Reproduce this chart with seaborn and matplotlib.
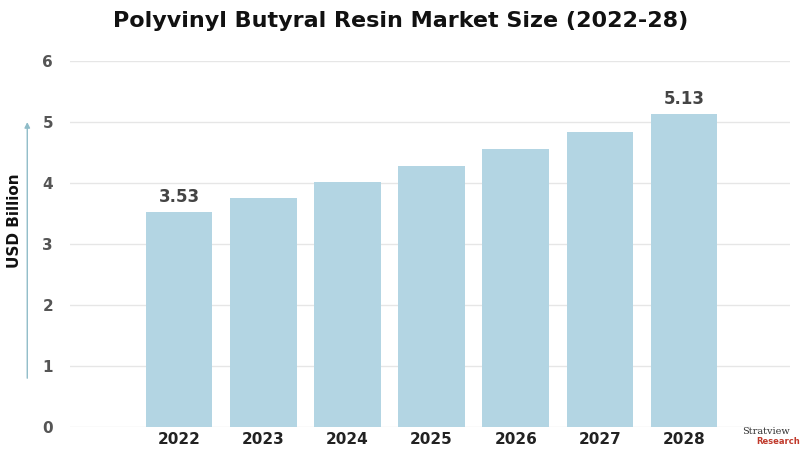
import matplotlib
matplotlib.use('Agg')
import matplotlib.pyplot as plt
import seaborn as sns
import pandas as pd

years = ['2022', '2023', '2024', '2025', '2026', '2027', '2028']
values = [3.53, 3.76, 4.01, 4.28, 4.55, 4.83, 5.13]
labelled = {'2022': '3.53', '2028': '5.13'}

df = pd.DataFrame({'year': years, 'value': values})

fig = plt.figure(figsize=(8.02, 4.59), dpi=100)
ax = fig.add_axes([0.087, 0.07, 0.898, 0.797])
sns.barplot(data=df, x='year', y='value', color='#b3d5e3', width=0.79, saturation=1, ax=ax)

ax.set_xlim(-1.3, 7.26)
ax.set_ylim(0, 6)
ax.set_yticks(range(7))
ax.grid(axis='y', color='#e6e6e6', linewidth=1)
ax.set_axisbelow(True)
for s in ax.spines.values():
    s.set_visible(False)
ax.tick_params(length=0)
ax.tick_params(axis='y', labelcolor='#555555', labelsize=11, pad=12)
ax.tick_params(axis='x', labelcolor='#222222', labelsize=11, pad=4)
for t in ax.get_xticklabels() + ax.get_yticklabels():
    t.set_fontweight('bold')
ax.set_xlabel('')
ax.set_ylabel('')

for i, (y, v) in enumerate(zip(years, values)):
    if y in labelled:
        ax.text(i, v + 0.1, labelled[y], ha='center', va='bottom',
                fontsize=12, fontweight='bold', color='#444444')

fig.text(0.5, 0.955, 'Polyvinyl Butyral Resin Market Size (2022-28)', ha='center', va='center',
         fontsize=16, fontweight='bold', color='#111111')
fig.text(0.018, 0.52, 'USD Billion', rotation=90, ha='center', va='center',
         fontsize=11, fontweight='bold', color='#111111')
fig.add_artist(matplotlib.patches.FancyArrowPatch((0.034, 0.17), (0.034, 0.74),
               transform=fig.transFigure, arrowstyle='-|>', mutation_scale=8,
               color='#8fbcc8', linewidth=1))

fig.text(0.955, 0.055, 'Stratview', ha='center', fontsize=7, fontfamily='serif', color='#333333')
fig.text(0.97, 0.032, 'Research', ha='center', fontsize=6, fontweight='bold', color='#c0392b')

fig.savefig('out.png', dpi=100)
